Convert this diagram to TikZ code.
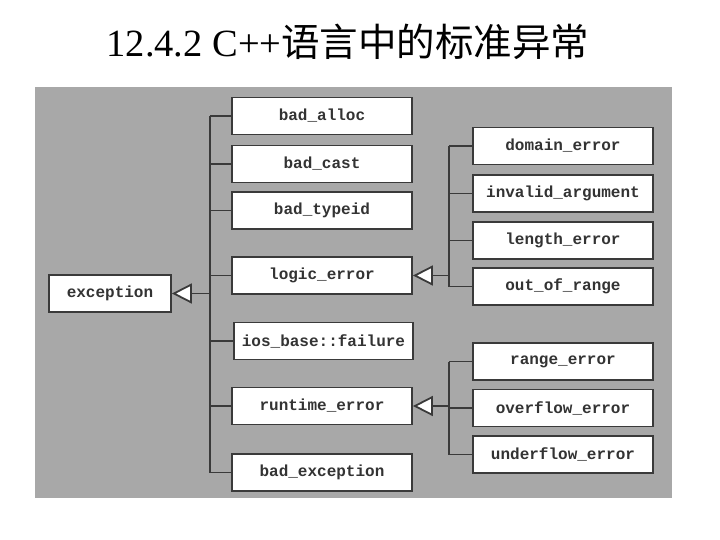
\documentclass[tikz,border=0pt]{standalone}
\usepackage{fontspec}
\setmainfont{Liberation Serif}
\setmonofont{Liberation Mono}
\newfontfamily\cjk{Noto Sans CJK SC}
\usetikzlibrary{arrows.meta}
\definecolor{panelgray}{RGB}{168,168,168}
\definecolor{linegray}{RGB}{58,58,58}
\tikzset{
  cls/.style={draw=linegray, line width=1.8pt, fill=white, minimum width=180pt, minimum height=37pt,
    inner sep=0pt, font=\fontsize{16}{16}\selectfont\ttfamily\bfseries, text=black!80},
  wire/.style={draw=linegray, line width=1.8pt},
  inherit/.style={wire, -{Triangle[open, fill=white, length=20pt, width=20pt, line width=1.8pt]}}
}
\begin{document}
\begin{tikzpicture}[x=1pt, y=-1pt]
				\useasboundingbox (0,0) rectangle (720,540);
				\node[font=\fontsize{38.5}{38.5}\selectfont] (title) at (348,42) {12.4.2 C++{\cjk 语言中的标准异常}};
				\fill[panelgray] (35,87) rectangle (672,498);
				%
				\node[cls, minimum width=122pt] (exception) at (110,293.5) {exception};
				\node[cls] (bad_alloc) at (322,116) {bad\_alloc};
				\node[cls] (bad_cast) at (322,164) {bad\_cast};
				\node[cls] (bad_typeid) at (322,210.5) {bad\_typeid};
				\node[cls] (logic_error) at (322,275.5) {logic\_error};
				\node[cls, minimum width=179pt] (ios_failure) at (323.5,341) {ios\_base::failure};
				\node[cls] (runtime_error) at (322,406) {runtime\_error};
				\node[cls] (bad_exception) at (322,472.5) {bad\_exception};
				%
				\node[cls] (domain_error) at (563,146) {domain\_error};
				\node[cls] (invalid_argument) at (563,193.5) {invalid\_argument};
				\node[cls] (length_error) at (563,240.5) {length\_error};
				\node[cls] (out_of_range) at (563,286.5) {out\_of\_range};
				\node[cls] (range_error) at (563,361.5) {range\_error};
				\node[cls] (overflow_error) at (563,408) {overflow\_error};
				\node[cls] (underflow_error) at (563,454.5) {underflow\_error};
				%
				\coordinate (busA) at (210,293.5);
				\coordinate (busB) at (449,275.5);
				\coordinate (busC) at (449,406);
				%
				\draw[wire] (busA |- bad_alloc) -- (busA |- bad_exception);
				\draw[wire] (busA |- bad_alloc) -- (bad_alloc);
				\draw[wire] (busA |- bad_cast) -- (bad_cast);
				\draw[wire] (busA |- bad_typeid) -- (bad_typeid);
				\draw[wire] (busA |- logic_error) -- (logic_error);
				\draw[wire] (busA |- ios_failure) -- (ios_failure);
				\draw[wire] (busA |- runtime_error) -- (runtime_error);
				\draw[wire] (busA |- bad_exception) -- (bad_exception);
				\draw[inherit] (busA) -- (exception);
				%
				\draw[wire] (busB |- domain_error) -- (busB |- out_of_range);
				\draw[wire] (busB |- domain_error) -- (domain_error);
				\draw[wire] (busB |- invalid_argument) -- (invalid_argument);
				\draw[wire] (busB |- length_error) -- (length_error);
				\draw[wire] (busB |- out_of_range) -- (out_of_range);
				\draw[inherit] (busB) -- (logic_error);
				%
				\draw[wire] (busC |- range_error) -- (busC |- underflow_error);
				\draw[wire] (busC |- range_error) -- (range_error);
				\draw[wire] (busC |- overflow_error) -- (overflow_error);
				\draw[wire] (busC |- underflow_error) -- (underflow_error);
				\draw[inherit] (busC) -- (runtime_error);
			\end{tikzpicture}
\end{document}
